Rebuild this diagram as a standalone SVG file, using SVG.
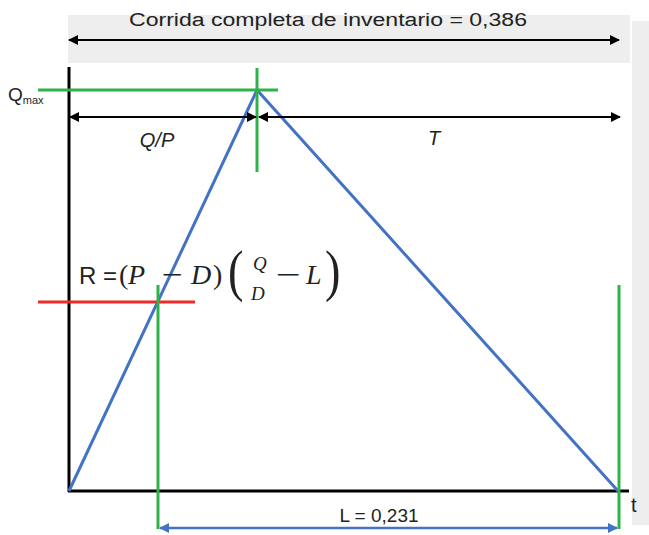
<svg xmlns="http://www.w3.org/2000/svg" width="649" height="535" viewBox="0 0 649 535">
<defs>
<style>
.lbl{font-family:"Liberation Sans","Open Sans",sans-serif;fill:#222}
.math{font-family:"Liberation Serif","DejaVu Serif",serif;fill:#222}
.it{font-style:italic}
.blk{stroke:#000;stroke-width:3;fill:none}
.arr{stroke:#000;stroke-width:2;fill:none}
.grn{stroke:#2db34a;stroke-width:3;fill:none}
.blue{stroke:#4472c4;stroke-width:3;fill:none}
</style>
<marker id="ak" viewBox="0 0 10 10" refX="9" refY="5" markerWidth="5" markerHeight="5" orient="auto-start-reverse" markerUnits="strokeWidth"><path d="M0,0 L10,5 L0,10 z" fill="#000"/></marker>
<marker id="ab" viewBox="0 0 10 10" refX="9" refY="5" markerWidth="4" markerHeight="4" orient="auto-start-reverse" markerUnits="strokeWidth"><path d="M0,0 L10,5 L0,10 z" fill="#4472c4"/></marker>
</defs>
<rect width="649" height="535" fill="#fff"/>
<rect x="68" y="15" width="562" height="48" fill="#eeeeee"/>
<rect x="632" y="21" width="17" height="504" fill="#eeeeee"/>
<g id="title"><text class="lbl" x="328" y="26" font-size="18" text-anchor="middle" textLength="398" lengthAdjust="spacingAndGlyphs">Corrida completa de inventario = 0,386</text></g>
<g id="axes">
<line class="blk" x1="69" y1="67" x2="69" y2="492"/>
<line class="blk" x1="68" y1="491" x2="629" y2="491"/>
<text class="lbl" x="631" y="512" font-size="20">t</text>
</g>
<g id="inventory">
<polyline class="blue" points="69,491 257,90 618,491"/>
</g>
<g id="qmax">
<line class="grn" x1="38" y1="90" x2="278" y2="90"/>
<line class="grn" x1="257" y1="68" x2="257" y2="172"/>
<text class="lbl" x="8" y="101" font-size="19">Q<tspan font-size="11" dy="3">max</tspan></text>
</g>
<g id="reorder">
<line stroke="#ee2a2a" stroke-width="3" x1="38" y1="302" x2="195" y2="302"/>
<line class="grn" x1="158" y1="285" x2="158" y2="529"/>
<line class="grn" x1="619" y1="285" x2="619" y2="529"/>
<text class="lbl" x="79" y="284" font-size="24">R =</text>
<text class="math" x="119" y="284" font-size="28">(</text>
<text class="math it" x="128" y="284" font-size="28">P</text>
<text class="math" x="162" y="284" font-size="28" textLength="21" lengthAdjust="spacingAndGlyphs">−</text>
<text class="math it" x="191" y="284" font-size="28">D</text>
<text class="math" x="213" y="284" font-size="28">)</text>
<text class="math" x="228" y="290" font-size="58" transform="translate(228,0) scale(0.8,1) translate(-228,0)">(</text>
<text class="math it" x="253" y="270" font-size="19">Q</text>
<text class="math it" x="251" y="300" font-size="19">D</text>
<text class="math" x="276" y="284" font-size="28" textLength="25" lengthAdjust="spacingAndGlyphs">−</text>
<text class="math it" x="306" y="284" font-size="28">L</text>
<text class="math" x="325" y="290" font-size="58" transform="translate(325,0) scale(0.8,1) translate(-325,0)">)</text>
</g>
<g id="connectors">
<line class="arr" x1="69" y1="40" x2="619" y2="40" marker-start="url(#ak)" marker-end="url(#ak)"/>
<line class="arr" x1="70" y1="117" x2="256" y2="117" marker-start="url(#ak)" marker-end="url(#ak)"/>
<line class="arr" x1="259" y1="117" x2="620" y2="117" marker-start="url(#ak)" marker-end="url(#ak)"/>
<line stroke="#4472c4" stroke-width="2.5" x1="160" y1="528" x2="617" y2="528" marker-start="url(#ab)" marker-end="url(#ab)"/>
</g>
<g id="labels">
<text class="lbl it" x="157" y="147" font-size="20" text-anchor="middle">Q/P</text>
<text class="lbl it" x="434" y="145" font-size="20" text-anchor="middle">T</text>
<text class="lbl" x="379" y="522" font-size="19" text-anchor="middle">L = 0,231</text>
</g>
</svg>
